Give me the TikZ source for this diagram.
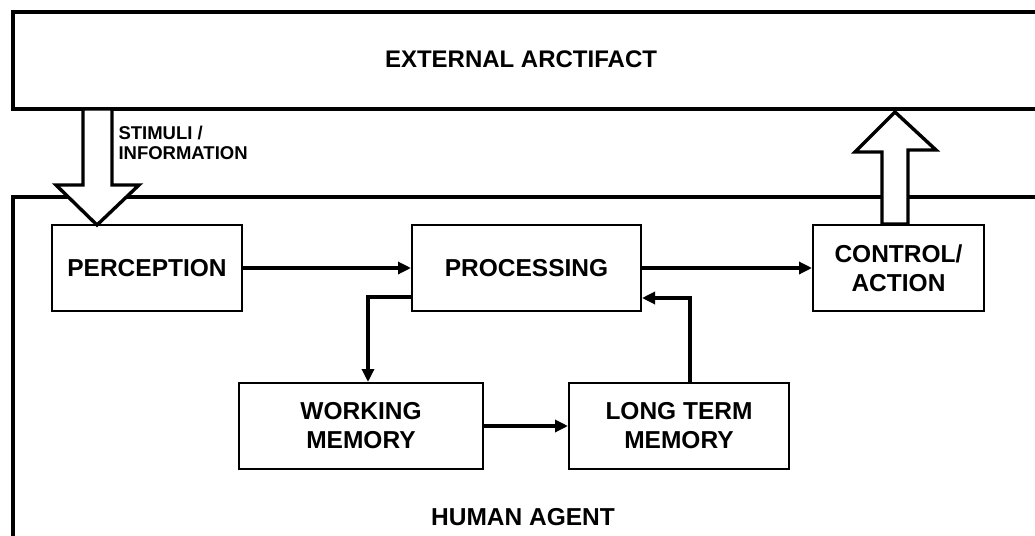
\documentclass[tikz,border=0pt]{standalone}
\usepackage{fontspec}
\setmainfont{Liberation Sans}
\usepackage{tikz}
\usetikzlibrary{positioning}
\usetikzlibrary{arrows.meta}

\begin{document}
\begin{tikzpicture}[
    x=1pt, y=-1pt,
    block/.style={rectangle, draw, line width=2pt, minimum height=86pt, align=center, font=\fontsize{24.5}{29}\selectfont\bfseries},
    frame/.style={line width=3.4pt},
    bigarrow/.style={line width=3.4pt, fill=white, line join=miter},
    flow/.style={-{Triangle[length=13pt,width=12pt]}, line width=3.2pt},
    label/.style={font=\fontsize{24}{26}\selectfont\bfseries}
]
\useasboundingbox (0,0) rectangle (1035,535);

% Outer frames (open to the right)
\draw[frame] (1040,12) -| (13,109) -- (1040,109);
\draw[frame] (1040,197) -| (13,540);
\node[label] (artifact) at (521,59) {EXTERNAL ARCTIFACT};
\node[label, font=\fontsize{24.5}{26}\selectfont\bfseries] (agent) at (523,517) {HUMAN AGENT};

% Blocks (top row)
\node[block, minimum width=190pt] (perception) at (147,268) {PERCEPTION};
\node[block, minimum width=229pt, right=168pt of perception] (processing) {PROCESSING};
\node[block, minimum width=171pt, right=170pt of processing] (control) {CONTROL/\\ACTION};

% Memory blocks
\node[block, minimum width=244pt] (wm) at (361,426) {WORKING\\MEMORY};
\node[block, minimum width=220pt, right=84pt of wm] (ltm) {LONG TERM\\MEMORY};

% Big arrows in and out
\coordinate (stimtip) at (97,225);
\coordinate (acttip) at (895,112);
\draw[bigarrow] (stimtip) -- ++(-41,-40) -- ++(27,0) -- ++(0,-76) -- ++(29,0) -- ++(0,76) -- ++(27,0) -- cycle;
\draw[bigarrow] (acttip) -- ++(-40,40) -- ++(27,0) -- (control.north -| 882,0) -- (control.north -| 908,0) -- ++(0,-74) -- ++(28,0) -- cycle;
\node[anchor=west, align=left, font=\fontsize{18.5}{20}\selectfont\bfseries] (stimuli) at (115,143) {STIMULI /\\INFORMATION};

% Messages
\draw[flow] (perception.east) -- (processing.west);
\draw[flow] (processing.east) -- (control.west);
\draw[flow] ([yshift=-29pt]processing.west) -| ([xshift=7pt]wm.north);
\draw[flow] (wm.east) -- (ltm.west);
\draw[flow] ([xshift=11pt]ltm.north) |- ([yshift=-30pt]processing.east);

\end{tikzpicture}
\end{document}
